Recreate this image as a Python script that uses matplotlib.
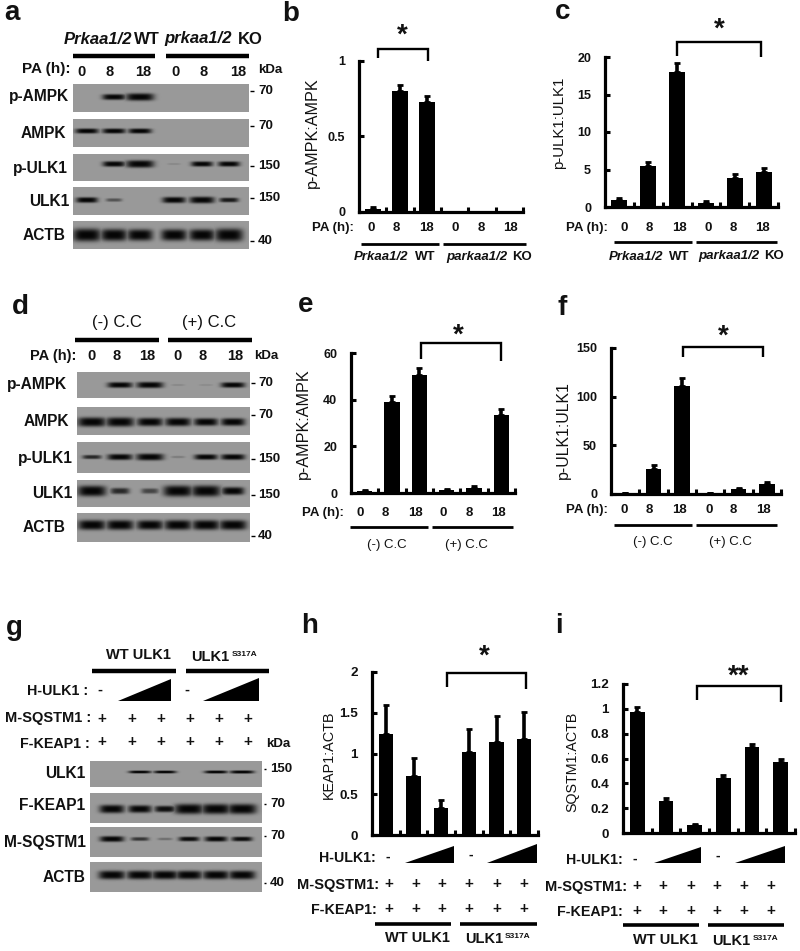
import numpy as np
import matplotlib
matplotlib.use('Agg')
import matplotlib.pyplot as plt

plt.rcParams['font.family'] = ['Liberation Sans', 'DejaVu Sans']

W, H = 800, 951

# bar chart values
bar_b = [0.02, 0.80, 0.73, 0, 0, 0]
err_b = [0.015, 0.04, 0.04, 0, 0, 0]
bar_c = [1.0, 5.5, 18.0, 0.6, 3.9, 4.7]
err_c = [0.25, 0.5, 1.2, 0.2, 0.5, 0.5]
bar_e = [0.8, 39, 50.5, 1.2, 2.2, 33.5]
err_e = [0.4, 2.7, 3.0, 0.5, 0.8, 2.7]
bar_f = [1, 26, 111, 1, 5, 10]
err_f = [0.5, 3.5, 8, 0.5, 1.5, 2.5]
bar_h = [1.24, 0.73, 0.33, 1.02, 1.14, 1.18]
err_h = [0.36, 0.21, 0.10, 0.28, 0.32, 0.33]
bar_i = [0.975, 0.26, 0.065, 0.445, 0.69, 0.57]
err_i = [0.04, 0.02, 0.01, 0.025, 0.03, 0.025]

ticks_b = [0, 0.5, 1]
ticks_c = [0, 5, 10, 15, 20]
ticks_e = [0, 20, 40, 60]
ticks_f = [0, 50, 100, 150]
ticks_h = [0, 0.5, 1, 1.5, 2]
ticks_i = [0, 0.2, 0.4, 0.6, 0.8, 1, 1.2]

# blot band strengths, one per lane
blot_a = [[0, .7, 1, 0, 0, 0],
          [.7, .7, .7, 0, 0, 0],
          [0, .65, 1, .06, .6, .6],
          [.6, .25, 0, .7, .8, .45],
          [1, .9, .85, .85, .85, 1]]
blot_d = [[0, .75, .85, .06, .05, .7],
          [.95, .95, .8, .8, .7, .7],
          [.4, .75, .9, .1, .65, .7],
          [.95, .4, .3, 1, 1, .6],
          [.9, .9, .85, .9, .9, .9]]
blot_g = [[0, .6, .6, 0, .65, .7],
          [.75, .65, .5, 1, 1, 1],
          [.7, .35, .15, .5, .6, .5],
          [.85, .85, .85, .85, .85, .85]]

pa_times = ['0', '8', '18', '0', '8', '18']
names_a = ['p-AMPK', 'AMPK', 'p-ULK1', 'ULK1', 'ACTB']
kda_a = ['70', '70', '150', '150', '40']
names_g = ['ULK1', 'F-KEAP1', 'M-SQSTM1', 'ACTB']
kda_g = ['150', '70', '70', '40']

fig = plt.figure(figsize=(W / 100, H / 100), dpi=100, facecolor='white')

# whole-figure axes in pixel units, for the text and the blots
ov = fig.add_axes([0, 0, 1, 1])
ov.set_xlim(0, W)
ov.set_ylim(H, 0)
ov.axis('off')


def t(x, y, s, size=10.5, ha='center', weight='bold', style='normal', **kw):
    ov.text(x, y, s, fontsize=size, ha=ha, va='center', fontweight=weight,
            fontstyle=style, color='#111111', **kw)


def hline(x0, x1, y, lw=2.0):
    ov.plot([x0, x1], [y, y], color='k', lw=lw, solid_capstyle='butt')


def mixed(x_it, x_rm, y, it, rm, size, weight='bold'):
    t(x_it, y, it, size, ha='right', style='italic')
    t(x_rm, y, rm, size, ha='left', weight=weight)


def bracket(x0, x1, top, b0, b1, star, sx, sy):
    ov.plot([x0, x0, x1, x1], [b0, top, top, b1], color='k', lw=1.7,
            solid_joinstyle='miter', solid_capstyle='butt')
    t(sx, sy, star, 20)


def wedge(x0, x1, top, bottom):
    ov.fill([x0, x1, x1], [bottom, top, bottom], color='k', lw=0)


def blot_row(x0, x1, y0, y1, lanes, cy, vals, thick, bg=0.6):
    xs = np.arange(x0, x1) + 0.5
    ys = np.arange(y0, y1) + 0.5
    xx, yy = np.meshgrid(xs, ys)
    dark = np.zeros_like(xx)
    sp = lanes[1] - lanes[0]
    for lx, v in zip(lanes, vals):
        if v <= 0:
            continue
        w = sp * (0.22 + 0.3 * v)
        h = thick * (0.3 + 0.85 * v)
        dark = np.maximum(dark, min(1, v * 1.9) * np.exp(-((xx - lx) / w) ** 4 - np.abs((yy - cy) / h) ** 3))
    img = bg * (1 - dark) + 0.02 * dark
    ov.imshow(img, cmap='gray', vmin=0, vmax=1, extent=[x0, x1, y1, y0],
              aspect='auto', interpolation='bilinear', zorder=1)


def chart(x0, x1, top, bottom, vals, errs, ymax, ticks, labels, width, ebw=2.6):
    ax = fig.add_axes([x0 / W, 1 - bottom / H, (x1 - x0) / W, (bottom - top) / H])
    ax.patch.set_alpha(0)
    pos = np.arange(6) + 0.5
    ax.bar(pos, vals, width=width, color='k')
    ax.errorbar(pos, vals, yerr=[np.zeros(6), errs], fmt='none', ecolor='k',
                elinewidth=ebw, capsize=2.4, capthick=2)
    ax.set_xlim(0, 6)
    ax.set_ylim(0, ymax)
    ax.set_xticks(np.arange(1, 7))
    ax.set_xticklabels([])
    ax.set_yticks(ticks)
    ax.set_yticklabels(labels, fontweight='bold', fontsize=ax_font[0], color='#111111')
    ax.tick_params(axis='both', direction='in', length=3.5, width=2.2)
    ax.tick_params(axis='y', pad=10)
    for side in ['top', 'right']:
        ax.spines[side].set_visible(False)
    for side in ['left', 'bottom']:
        ax.spines[side].set_linewidth(2.3)
    return ax


# panel letters
for s, x, y in [('a', 12, 13), ('b', 291, 14), ('c', 563, 12), ('d', 20, 307), ('e', 306, 305),
                ('f', 562, 308), ('g', 14, 628), ('h', 310, 626), ('i', 559, 626)]:
    t(x, y, s, 20)

# ---- panel a ----
lanes = [87, 114, 140, 174, 202, 229]
mixed(132, 134, 39, 'Prkaa1/2', 'WT', 12)
mixed(232, 238, 39, 'prkaa1/2', 'KO', 12)
hline(73, 155, 56, 3.2)
hline(166, 249, 56, 3.2)
t(71, 69, 'PA (h):', 11, ha='right')
for s, x in zip(pa_times, [81, 110, 143, 176, 204, 238]):
    t(x, 72, s, 10.5)
t(270, 70, 'kDa', 9.5)
rows = [(84, 112, 97, 3.2), (119, 147, 131, 2.8), (154, 181, 164, 3.2), (187, 215, 200, 3.4), (221, 249, 235, 5.6)]
for r, v in zip(rows, blot_a):
    blot_row(73, 249, r[0], r[1], lanes, r[2], v, r[3])
for s, x, y in zip(names_a, [39, 43, 40, 49, 44], [97, 133, 168, 201, 236]):
    t(x, y, s, 11.2)
for s, y in zip(kda_a, [91, 126, 166, 198, 241]):
    hline(250, 254, y, 1.0)
    t(258, y, s, 9.5, ha='left')

# ---- panel d ----
lanes = [92, 120, 150, 178, 206, 233]
t(117, 323, '(-) C.C', 12, weight='normal')
t(209, 323, '(+) C.C', 12, weight='normal')
hline(75, 159, 340, 3.2)
hline(168, 252, 340, 3.2)
t(76, 356, 'PA (h):', 10.5, ha='right')
for s, x in zip(pa_times, [91, 117, 147, 177, 203, 235]):
    t(x, 356, s, 10.5)
t(266, 356, 'kDa', 9.5)
rows = [(372, 398, 385, 3.0), (407, 435, 422, 4.2), (442, 473, 457, 3.2), (480, 507, 491, 4.8), (513, 542, 525, 4.6)]
for r, v in zip(rows, blot_d):
    blot_row(77, 250, r[0], r[1], lanes, r[2], v, r[3])
for s, x, y in zip(names_a, [37, 46, 45, 52, 44], [385, 422, 458, 494, 527]):
    t(x, y, s, 11.2)
for s, y in zip(kda_a, [383, 415, 459, 495, 536]):
    hline(251, 255, y, 1.0)
    t(258, y, s, 9.5, ha='left')

# ---- panel g ----
lanes = [112, 140, 165, 189, 216, 242]
t(138, 655, 'WT ULK1', 10.5)
t(229, 657, 'ULK1', 10.5, ha='right')
t(232, 654, 'S317A', 6, ha='left')
hline(92, 176, 671, 3.2)
hline(186, 269, 671, 3.2)
t(88, 691, 'H-ULK1 :', 10.3, ha='right')
t(100, 690, '-', 10.5)
wedge(118, 171, 679, 701)
t(187, 690, '-', 10.5)
wedge(203, 259, 678, 701)
t(91, 718, 'M-SQSTM1 :', 10.5, ha='right')
t(90, 744, 'F-KEAP1 :', 10.3, ha='right')
for x in [102, 132, 161, 190, 219, 248]:
    t(x, 719, '+', 11)
    t(x, 742, '+', 11)
t(278, 744, 'kDa', 9.5)
rows = [(761, 787, 772, 1.8), (793, 823, 809, 4.4), (827, 857, 839, 3.2), (862, 892, 875, 4.2)]
for r, v in zip(rows, blot_g):
    blot_row(90, 262, r[0], r[1], lanes, r[2], v, r[3])
for s, x, y in zip(names_g, [65, 52, 45, 64], [774, 806, 842, 877]):
    t(x, y, s, 11.2)
for s, y in zip(kda_g, [769, 804, 836, 883]):
    hline(264, 266, y, 1.0)
    t(270, y, s, 9.5, ha='left')

# ---- bar charts ----
ax_font = [9]
chart(359, 523, 61, 212, bar_b, err_b, 1, ticks_b, ['0', '0.5', '1'], 0.58)
chart(605, 778, 57, 207, bar_c, err_c, 20, ticks_c, ['0', '5', '10', '15', '20'], 0.55)
chart(351, 515, 353, 493, bar_e, err_e, 60, ticks_e, ['0', '20', '40', '60'], 0.56)
chart(611, 781, 348, 494, bar_f, err_f, 150, ticks_f, ['0', '50', '100', '150'], 0.56)
ax_font = [9.7]
chart(372, 538, 672, 835, bar_h, err_h, 2, ticks_h, ['0', '0.5', '1', '1.5', '2'], 0.52)
chart(623, 795, 684, 833, bar_i, err_i, 1.2, ticks_i, ['0', '0.2', '0.4', '0.6', '0.8', '1', '1.2'], 0.51)

# y axis titles
for s, x, y, fs in [('p-AMPK:AMPK', 312, 133, 11.6), ('p-ULK1:ULK1', 559, 123, 10.8), ('p-AMPK:AMPK', 303, 424, 11.6),
                    ('p-ULK1:ULK1', 563, 430, 11.4), ('KEAP1:ACTB', 329, 755, 10.4), ('SQSTM1:ACTB', 572, 762, 10.3)]:
    t(x, y, s, fs, weight='normal', rotation=90)

# brackets
bracket(378, 428, 49, 58, 61, '*', 402, 36)
bracket(677, 761, 42, 56, 57, '*', 719, 30)
bracket(421, 501, 343, 359, 361, '*', 458, 336)
bracket(683, 763, 347, 357, 357, '*', 723, 337)
bracket(447, 526, 673, 687, 689, '*', 484, 657)
bracket(697, 781, 686, 700, 702, '**', 739, 677)

# labels under b, c
t(354, 228, 'PA (h):', 9.5, ha='right')
for s, x in zip(pa_times, [371, 396, 426, 455, 481, 510]):
    t(x, 228, s, 9.5)
hline(361, 439, 244)
hline(443, 526, 244)
mixed(408, 415, 257, 'Prkaa1/2', 'WT', 9.5)
mixed(507, 512, 257, 'parkaa1/2', 'KO', 9.5)

t(608, 228, 'PA (h):', 9.5, ha='right')
for s, x in zip(pa_times, [624, 649, 679, 708, 733, 762]):
    t(x, 228, s, 9.5)
hline(614, 692, 242)
hline(696, 777, 242)
mixed(663, 669, 257, 'Prkaa1/2', 'WT', 9.5)
mixed(759, 764, 256, 'parkaa1/2', 'KO', 9.5)

# labels under e, f
t(344, 513, 'PA (h):', 9.5, ha='right')
for s, x in zip(pa_times, [360, 385, 415, 443, 469, 498]):
    t(x, 513, s, 9.5)
hline(350, 428, 527)
hline(432, 513, 527)
t(387, 545, '(-) C.C', 9.5, weight='normal')
t(466, 545, '(+) C.C', 9.5, weight='normal')

t(608, 510, 'PA (h):', 9.5, ha='right')
for s, x in zip(pa_times, [624, 649, 679, 709, 733, 763]):
    t(x, 510, s, 9.5)
hline(614, 692, 525)
hline(696, 777, 525)
t(653, 542, '(-) C.C', 9.5, weight='normal')
t(730, 542, '(+) C.C', 9.5, weight='normal')

# labels under h, i
t(376, 858, 'H-ULK1:', 10.2, ha='right')
t(388, 857, '-', 10)
wedge(405, 454, 846, 863)
t(471, 855, '-', 10)
wedge(487, 537, 844, 863)
t(379, 885, 'M-SQSTM1:', 10.5, ha='right')
t(377, 910, 'F-KEAP1:', 10.3, ha='right')
for x in [389, 416, 442, 469, 497, 524]:
    t(x, 884, '+', 11)
    t(x, 909, '+', 11)
hline(375, 451, 924, 2.6)
hline(460, 537, 924, 2.6)
t(417, 938, 'WT ULK1', 10.5)
t(503, 939, 'ULK1', 10.5, ha='right')
t(505, 936, 'S317A', 6, ha='left')

t(623, 860, 'H-ULK1:', 10.2, ha='right')
t(635, 859, '-', 10)
wedge(654, 701, 847, 863)
t(718, 856, '-', 10)
wedge(735, 785, 846, 863)
t(627, 887, 'M-SQSTM1:', 10.5, ha='right')
t(623, 912, 'F-KEAP1:', 10.3, ha='right')
for x in [637, 663, 691, 717, 744, 771]:
    t(x, 886, '+', 11)
    t(x, 911, '+', 11)
hline(623, 699, 925, 2.6)
hline(708, 784, 925, 2.6)
t(665, 940, 'WT ULK1', 10.5)
t(750, 941, 'ULK1', 10.5, ha='right')
t(753, 938, 'S317A', 6, ha='left')

ov.set_xlim(0, W)
ov.set_ylim(H, 0)
fig.savefig('out.png', dpi=100)
